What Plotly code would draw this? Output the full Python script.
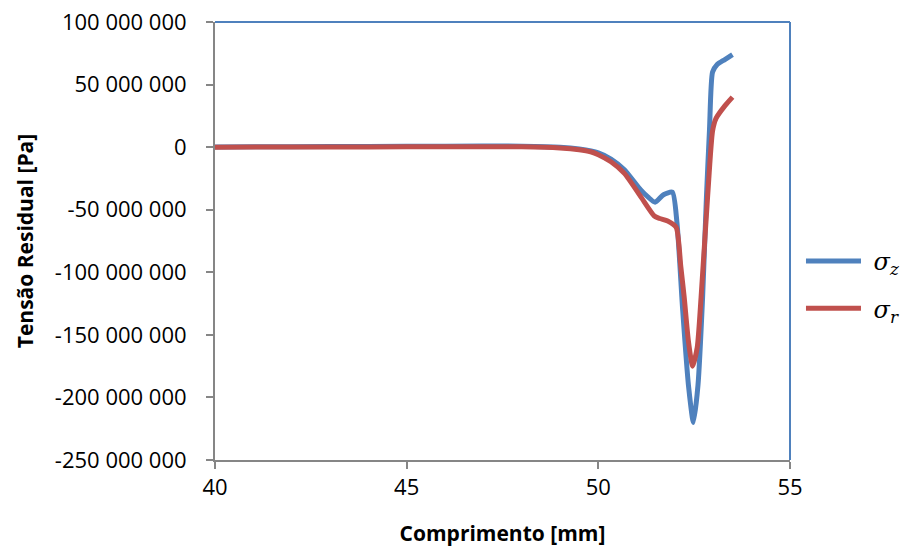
import plotly.graph_objects as go

# Data (x in mm, stress in Pa)
x_z = [40, 42, 44, 46, 48, 49, 49.5, 50, 50.33, 50.68, 51.1, 51.3, 51.48, 51.7, 51.93, 52.05, 52.2, 52.35, 52.48, 52.6, 52.72, 52.82, 52.9, 52.98, 53.1, 53.3, 53.5]
sigma_z = [0.2e6, 0.4e6, 0.6e6, 0.8e6, 0.8e6, 0.0e6, -1.5e6, -4.5e6, -9.5e6, -18e6, -34e6, -40e6, -44e6, -38e6, -36e6, -60e6, -130e6, -190e6, -220e6, -190e6, -120e6, -40e6, 14e6, 60e6, 66e6, 70e6, 74e6]

x_r = [40, 42, 44, 46, 48, 49, 49.5, 49.8, 50, 50.33, 50.68, 51.11, 51.46, 51.6, 51.81, 52.03, 52.15, 52.24, 52.35, 52.46, 52.58, 52.68, 52.85, 52.98, 53.07, 53.3, 53.5]
sigma_r = [0.0e6, 0.1e6, 0.2e6, 0.3e6, 0.3e6, -0.6e6, -2e6, -3.7e6, -6e6, -11.7e6, -21e6, -39.7e6, -55e6, -57e6, -59e6, -64e6, -95e6, -120e6, -155e6, -175e6, -160e6, -120e6, -40e6, 13e6, 23e6, 33e6, 40e6]

series_names = ["\u00a0<i>σ<sub>z</sub></i>", "\u00a0<i>σ<sub>r</sub></i>"]

y_tickvals = [100e6, 50e6, 0, -50e6, -100e6, -150e6, -200e6, -250e6]
y_ticktext = ["100 000 000", "50 000 000", "0", "-50 000 000", "-100 000 000", "-150 000 000", "-200 000 000", "-250 000 000"]
x_tickvals = [40, 45, 50, 55]
x_ticktext = ["40", "45", "50", "55"]

BLUE = "#4F81BD"
RED = "#C0504D"
GRAY = "#868686"

fig = go.Figure()
fig.add_trace(go.Scatter(x=x_z, y=sigma_z, mode="lines", name=series_names[0],
                         line=dict(color=BLUE, width=5, shape="spline", smoothing=0.6),
                         legendgroup="a"))
fig.add_trace(go.Scatter(x=x_r, y=sigma_r, mode="lines", name=series_names[1],
                         line=dict(color=RED, width=5, shape="spline", smoothing=0.6),
                         legendgroup="b"))

fig.update_layout(
    width=912, height=546,
    margin=dict(l=207, r=130, t=14, b=94),
    plot_bgcolor="white", paper_bgcolor="white",
    font=dict(family="Open Sans", size=22, color="black"),
    showlegend=True,
    legend=dict(xref="container", yref="container", x=0.8695, y=0.4927,
                xanchor="left", yanchor="middle",
                font=dict(family="DejaVu Serif", size=24),
                tracegroupgap=13, itemwidth=55, traceorder="grouped",
                bgcolor="rgba(0,0,0,0)"),
    xaxis=dict(range=[40, 55], tickvals=x_tickvals, ticktext=x_ticktext,
               automargin=False, ticklabeloverflow="allow",
               showgrid=False, zeroline=False, showline=True, linecolor=GRAY, linewidth=2,
               ticks="outside", ticklen=7, tickcolor=GRAY, tickwidth=1.5,
               tickfont=dict(size=22),
               title=dict(text="<b>Comprimento [mm]</b>", font=dict(size=21), standoff=26)),
    yaxis=dict(range=[-250e6, 100e6], tickvals=y_tickvals, ticktext=y_ticktext,
               automargin=False, ticklabeloverflow="allow", ticklabelstandoff=15,
               showgrid=False, zeroline=False, showline=True, linecolor=GRAY, linewidth=2,
               ticks="outside", ticklen=7, tickcolor=GRAY, tickwidth=1.5,
               tickfont=dict(size=22),
               title=dict(text="<b>Tensão Residual [Pa]</b>", font=dict(size=21), standoff=16)),
)

# blue frame on top and right edges of the plot area
fig.add_shape(type="line", xref="paper", yref="paper", x0=0, x1=1, y0=1, y1=1,
              line=dict(color=BLUE, width=2))
fig.add_shape(type="line", xref="paper", yref="paper", x0=1, x1=1, y0=0, y1=1,
              line=dict(color=BLUE, width=2))

fig.write_html("out.html")
